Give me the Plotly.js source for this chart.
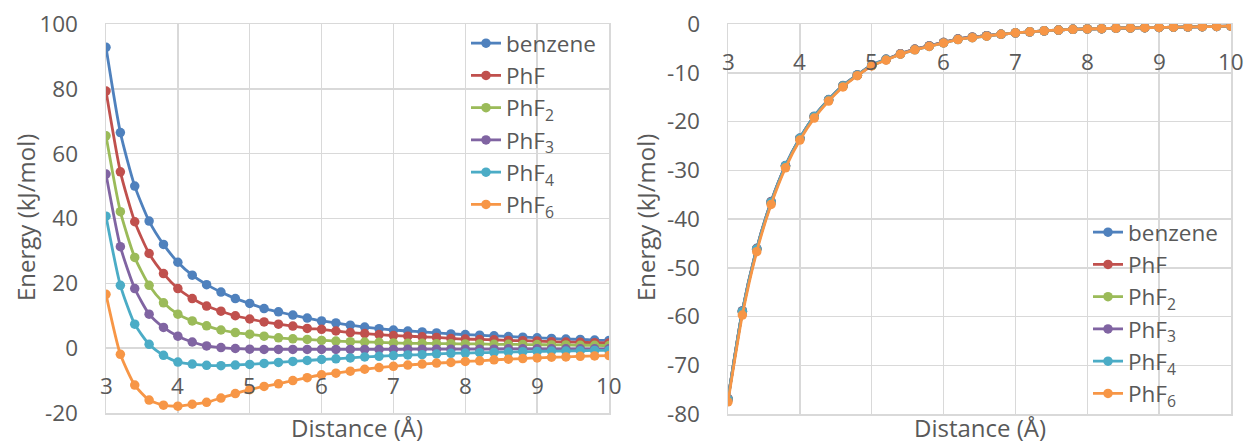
<!DOCTYPE html>
<html>
<head>
<meta charset="utf-8">
<script src="https://cdn.plot.ly/plotly-3.0.1.min.js"></script>
<style>html,body{margin:0;padding:0;background:#fff;}#chart{width:1247px;height:446px;}</style>
</head>
<body>
<div id="chart"></div>
<script>
// ---------- data ----------
const distance = [3.0,3.2,3.4,3.6,3.8,4.0,4.2,4.4,4.6,4.8,5.0,5.2,5.4,5.6,5.8,6.0,6.2,6.4,6.6,6.8,7.0,7.2,7.4,7.6,7.8,8.0,8.2,8.4,8.6,8.8,9.0,9.2,9.4,9.6,9.8,10.0];
const seriesNames = ['benzene','PhF','PhF<sub>2</sub>','PhF<sub>3</sub>','PhF<sub>4</sub>','PhF<sub>6</sub>'];
const seriesColors = ['#4F81BD','#C0504D','#9BBB59','#8064A2','#4BACC6','#F79646'];

// left panel
const leftBenzene = [92.8,66.5,50.0,39.2,32.0,26.5,22.5,19.6,17.3,15.3,13.8,12.2,11.2,10.2,9.3,8.4,7.8,7.1,6.5,6.0,5.6,5.3,5.0,4.7,4.4,4.2,4.0,3.8,3.6,3.4,3.2,3.0,2.8,2.7,2.5,2.4];
const leftPhF = [79.3,54.4,39.0,29.2,23.0,18.4,15.3,13.0,11.4,10.0,9.0,8.1,7.4,6.8,6.1,5.8,5.3,4.8,4.5,4.2,3.9,3.7,3.5,3.3,3.0,2.8,2.7,2.6,2.4,2.3,2.2,2.0,1.9,1.8,1.7,1.6];
const leftPhF2 = [65.5,42.1,28.0,19.4,14.0,10.5,8.4,6.9,5.6,4.8,4.3,3.7,3.2,2.9,2.7,2.4,2.2,2.0,1.9,1.8,1.6,1.5,1.5,1.4,1.4,1.3,1.3,1.2,1.2,1.1,1.1,1.0,1.0,0.9,0.9,0.8];
const leftPhF3 = [53.7,31.3,18.4,10.5,6.4,3.7,1.9,0.7,0.2,-0.1,-0.3,-0.4,-0.4,-0.4,-0.4,-0.4,-0.4,-0.4,-0.4,-0.4,-0.4,-0.3,-0.3,-0.3,-0.3,-0.3,-0.3,-0.3,-0.2,-0.2,-0.2,-0.2,-0.2,-0.2,-0.2,-0.2];
const leftPhF4 = [40.7,19.4,7.4,1.2,-2.2,-4.3,-4.9,-5.3,-5.4,-5.2,-5.0,-4.7,-4.4,-4.1,-3.8,-3.5,-3.3,-3.0,-2.7,-2.5,-2.3,-2.1,-2.0,-1.8,-1.6,-1.5,-1.4,-1.3,-1.2,-1.1,-1.0,-0.9,-0.9,-0.8,-0.7,-0.7];
const leftPhF6 = [16.6,-1.9,-11.4,-16.0,-17.6,-17.9,-17.3,-16.7,-15.4,-14.0,-12.8,-11.8,-11.0,-10.0,-9.1,-8.2,-7.7,-7.1,-6.5,-6.0,-5.6,-5.2,-4.9,-4.6,-4.4,-4.1,-3.9,-3.6,-3.4,-3.2,-3.0,-2.8,-2.7,-2.5,-2.4,-2.3];

// right panel
const rightBenzene = [-76.8,-58.8,-46.0,-36.4,-29.0,-23.4,-18.9,-15.5,-12.6,-10.4,-8.4,-7.2,-6.1,-5.2,-4.5,-3.8,-3.1,-2.7,-2.4,-2.1,-1.8,-1.6,-1.4,-1.25,-1.1,-1.0,-0.95,-0.85,-0.8,-0.75,-0.7,-0.65,-0.6,-0.55,-0.5,-0.45];
const rightPhF = [-76.9,-58.9,-46.1,-36.5,-29.1,-23.5,-19.0,-15.6,-12.7,-10.5,-8.5,-7.3,-6.1,-5.2,-4.5,-3.8,-3.1,-2.7,-2.4,-2.1,-1.8,-1.6,-1.4,-1.25,-1.1,-1.0,-0.95,-0.85,-0.8,-0.75,-0.7,-0.65,-0.6,-0.55,-0.5,-0.45];
const rightPhF2 = [-77.0,-59.0,-46.2,-36.6,-29.2,-23.5,-19.0,-15.6,-12.7,-10.5,-8.5,-7.3,-6.1,-5.2,-4.5,-3.8,-3.1,-2.7,-2.4,-2.1,-1.8,-1.6,-1.4,-1.25,-1.1,-1.0,-0.95,-0.85,-0.8,-0.75,-0.7,-0.65,-0.6,-0.55,-0.5,-0.45];
const rightPhF3 = [-77.0,-59.0,-46.2,-36.6,-29.1,-23.5,-19.0,-15.6,-12.7,-10.5,-8.5,-7.3,-6.1,-5.2,-4.5,-3.8,-3.1,-2.7,-2.4,-2.1,-1.8,-1.6,-1.4,-1.25,-1.1,-1.0,-0.95,-0.85,-0.8,-0.75,-0.7,-0.65,-0.6,-0.55,-0.5,-0.45];
const rightPhF4 = [-77.0,-59.0,-46.2,-36.6,-29.1,-23.5,-19.0,-15.6,-12.7,-10.5,-8.5,-7.3,-6.2,-5.3,-4.6,-3.9,-3.2,-2.8,-2.5,-2.1,-1.8,-1.6,-1.4,-1.25,-1.1,-1.0,-0.95,-0.85,-0.8,-0.75,-0.7,-0.65,-0.6,-0.55,-0.5,-0.45];
const rightPhF6 = [-77.5,-59.7,-46.7,-37.0,-29.5,-23.8,-19.3,-15.8,-12.9,-10.6,-8.6,-7.4,-6.2,-5.3,-4.6,-3.9,-3.2,-2.8,-2.5,-2.1,-1.8,-1.6,-1.4,-1.25,-1.1,-1.0,-0.95,-0.85,-0.8,-0.75,-0.7,-0.65,-0.6,-0.55,-0.5,-0.45];

const xTickVals = [3,4,5,6,7,8,9,10];
const xTickText = ['3','4','5','6','7','8','9','10'];
const leftYTickVals = [-20,0,20,40,60,80,100];
const leftYTickText = ['-20','0','20','40','60','80','100'];
const rightYTickVals = [-80,-70,-60,-50,-40,-30,-20,-10,0];
const rightYTickText = ['-80','-70','-60','-50','-40','-30','-20','-10','0'];
const xTitle = 'Distance (Å)';
const yTitle = 'Energy (kJ/mol)';

// ---------- build ----------
const FONT = '"Open Sans", "Noto Sans", sans-serif';
const TXT = '#595959';
const GRID = '#D9D9D9';
const TICK_SIZE = 22.5, LEG_SIZE = 22.5, TITLE_SIZE = 24;

const leftData = [leftBenzene, leftPhF, leftPhF2, leftPhF3, leftPhF4, leftPhF6];
const rightData = [rightBenzene, rightPhF, rightPhF2, rightPhF3, rightPhF4, rightPhF6];

const traces = [];
leftData.forEach((ys, i) => {
  traces.push({
    x: distance, y: ys, name: seriesNames[i], type: 'scatter', mode: 'lines+markers',
    line: {color: seriesColors[i], width: 2.8, shape: 'spline', smoothing: 0.6},
    marker: {color: seriesColors[i], size: 9.5},
    xaxis: 'x', yaxis: 'y', legend: 'legend', hoverinfo: 'skip'
  });
});
rightData.forEach((ys, i) => {
  traces.push({
    x: distance, y: ys, name: seriesNames[i], type: 'scatter', mode: 'lines+markers',
    line: {color: seriesColors[i], width: 2.8, shape: 'spline', smoothing: 0.6},
    marker: {color: seriesColors[i], size: 9.5},
    xaxis: 'x2', yaxis: 'y2', legend: 'legend2', hoverinfo: 'skip'
  });
});

const W = 1247, H = 446;
const axisCommon = {
  showgrid: true, gridcolor: GRID, gridwidth: 1.5,
  showline: true, linecolor: GRID, linewidth: 1.5, mirror: true,
  zeroline: false, ticks: '',
  tickfont: {family: FONT, size: TICK_SIZE, color: TXT}
};

const layout = {
  width: W, height: H,
  margin: {l: 0, r: 0, t: 0, b: 0},
  paper_bgcolor: '#fff', plot_bgcolor: '#fff',
  font: {family: FONT, color: TXT},
  showlegend: true,
  xaxis: Object.assign({}, axisCommon, {domain: [106/W, 609/W], range: [3, 10], anchor: 'y', tickvals: xTickVals, showticklabels: false}),
  yaxis: Object.assign({}, axisCommon, {domain: [33/H, 422/H], range: [-20, 100], anchor: 'x', tickvals: leftYTickVals, ticktext: leftYTickText, ticklabelstandoff: 22}),
  xaxis2: Object.assign({}, axisCommon, {domain: [728/W, 1231/W], range: [3, 10], anchor: 'y2', tickvals: xTickVals, showticklabels: false}),
  yaxis2: Object.assign({}, axisCommon, {domain: [32/H, 422/H], range: [-80, 0], anchor: 'x2', tickvals: rightYTickVals, ticktext: rightYTickText, ticklabelstandoff: 22}),
  legend: {x: 466/W, xanchor: 'left', y: 1 - 22/H, yanchor: 'top', bgcolor: 'rgba(0,0,0,0)',
           font: {family: FONT, size: LEG_SIZE, color: TXT}, itemwidth: 30, tracegroupgap: 0},
  legend2: {x: 1088/W, xanchor: 'left', y: 1 - 211/H, yanchor: 'top', bgcolor: 'rgba(0,0,0,0)',
           font: {family: FONT, size: LEG_SIZE, color: TXT}, itemwidth: 30, tracegroupgap: 0},
  annotations: []
};

// x tick labels sit just below the y=0 line (axis crossing)
[['x','y'],['x2','y2']].forEach(([xr, yr]) => {
  xTickVals.forEach((v, i) => {
    layout.annotations.push({x: v, y: 0, xref: xr, yref: yr, text: xTickText[i], showarrow: false,
      yanchor: 'middle', xanchor: 'center', yshift: -37, font: {family: FONT, size: TICK_SIZE, color: TXT}});
  });
});
// axis titles
layout.annotations.push({x: 357.5/W, y: 0, xref: 'paper', yref: 'paper', text: xTitle, showarrow: false,
  xanchor: 'center', yanchor: 'bottom', font: {family: FONT, size: TITLE_SIZE, color: TXT}});
layout.annotations.push({x: 979.5/W, y: 0, xref: 'paper', yref: 'paper', text: xTitle, showarrow: false,
  xanchor: 'center', yanchor: 'bottom', font: {family: FONT, size: TITLE_SIZE, color: TXT}});
layout.annotations.push({x: 25/W, y: 1 - 218/H, xref: 'paper', yref: 'paper', text: yTitle, showarrow: false, textangle: -90,
  xanchor: 'center', yanchor: 'middle', font: {family: FONT, size: TITLE_SIZE, color: TXT}});
layout.annotations.push({x: 645/W, y: 1 - 218/H, xref: 'paper', yref: 'paper', text: yTitle, showarrow: false, textangle: -90,
  xanchor: 'center', yanchor: 'middle', font: {family: FONT, size: TITLE_SIZE, color: TXT}});

Plotly.newPlot('chart', traces, layout, {staticPlot: true, displayModeBar: false});
</script>
</body>
</html>
